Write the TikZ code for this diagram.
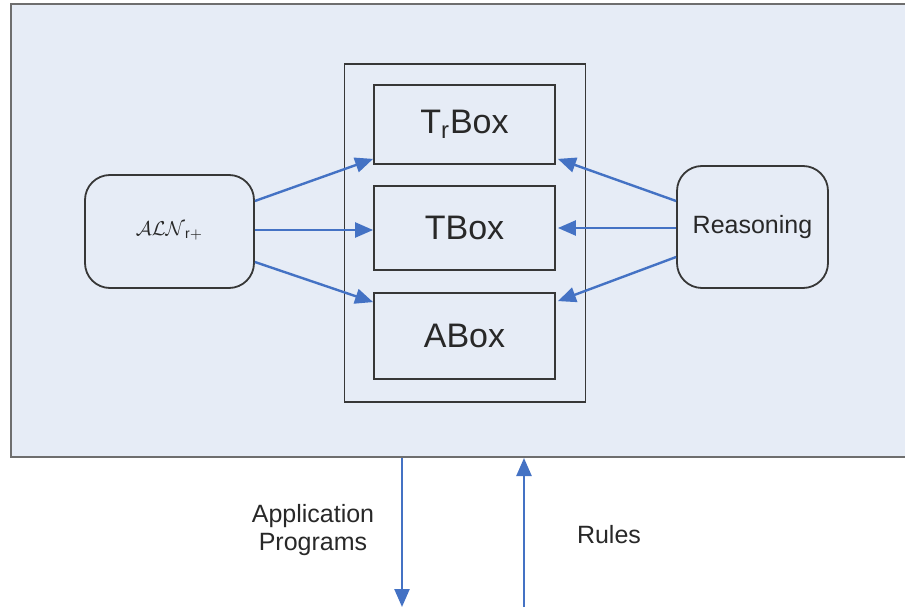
\documentclass[tikz,border=0pt]{standalone}
\usepackage{fontspec}
\setmainfont{Liberation Sans}
\definecolor{panel}{RGB}{230, 236, 246}
\definecolor{frameline}{RGB}{110, 110, 110}
\definecolor{boxline}{RGB}{55, 55, 55}
\definecolor{flow}{RGB}{68, 114, 196}
\definecolor{ink}{RGB}{40, 40, 40}
\usetikzlibrary{arrows.meta, positioning, calc}

\begin{document}
\begin{tikzpicture}[
        x=0.5pt, y=-0.5pt,
        every node/.style={text=ink},
        kbox/.style={draw=boxline, line width=0.9pt, fill=panel, minimum width=90.5pt, font=\fontsize{17}{20}\selectfont},
        roundbox/.style={draw=boxline, line width=0.9pt, fill=panel, rounded corners=12.5pt},
        link/.style={draw=flow, line width=1.2pt, -{Triangle[length=9pt, width=7.5pt]}},
        caption/.style={font=\fontsize{12.5}{14}\selectfont, align=center},
    ]
    \useasboundingbox (0,0) rectangle (905,609);
    % system frame, open to the right
    \fill[panel] (11,4) rectangle (905,457);
    \draw[frameline, line width=1pt] (905,4) -- (11,4) -- (11,457) -- (905,457);
    \coordinate (appout) at (402,458);
    \coordinate (append) at (402,607);
    \coordinate (rulesin) at (524,458);
    \coordinate (rulesstart) at (524,607);

    \node[draw=boxline, line width=0.9pt, minimum width=120.5pt, minimum height=169pt] (kb) at (465,233) {};
    \node[kbox, minimum height=39.5pt] (trbox) at (464.5,124.5) {T\textsubscript{r}Box};
    \node[kbox, minimum height=42pt] (tbox) at (464.5,228) {TBox};
    \node[kbox, minimum height=43pt] (abox) at (464.5,336) {ABox};

    \node[roundbox, minimum width=84.5pt, minimum height=56.5pt, font=\fontsize{10}{12}\selectfont] (lang) at (169.5,231.5) {$\mathcal{ALN}_{\mathrm{r+}}$};
    \node[roundbox, minimum width=75.5pt, minimum height=61pt, font=\fontsize{12.5}{14}\selectfont] (reason) at (752.5,227) {Reasoning};

    \draw[link] ($(lang.east)+(0,-30.5)$) -- ($(trbox.south west)+(0,-6)$);
    \draw[link] ($(lang.east)+(0,-1.5)$) -- ($(tbox.west)+(0,2)$);
    \draw[link] ($(lang.east)+(0,30.5)$) -- ($(abox.north west)+(0,10)$);
    \draw[link] ($(reason.west)+(0,-26)$) -- ($(trbox.south east)+(2,-6)$);
    \draw[link] ($(reason.west)+(0,1)$) -- ($(tbox.east)+(2,0)$);
    \draw[link] ($(reason.west)+(0,30)$) -- ($(abox.north east)+(2,9)$);

    \draw[link] (appout) -- (append);
    \draw[link] (rulesstart) -- (rulesin);
    \node[caption] (apptext) at (313,530) {Application\\Programs};
    \node[caption] (rulestext) at (609,535) {Rules};
\end{tikzpicture}
\end{document}
